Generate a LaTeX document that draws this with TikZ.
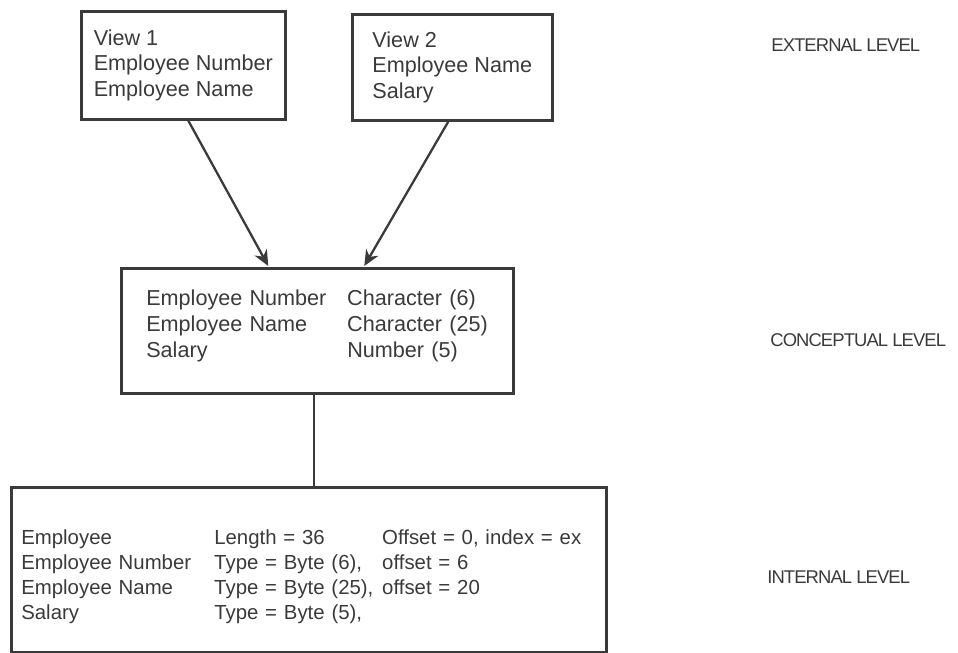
\documentclass[tikz,border=0pt]{standalone}
\usepackage{fontspec}
\setmainfont{Liberation Sans}
\newfontfamily\levelfont[LetterSpace=-5]{Liberation Sans}
\usepackage{xcolor}
\usetikzlibrary{arrows.meta,positioning,calc}
\definecolor{ink}{HTML}{3A3A3A}

\begin{document}
\begin{tikzpicture}[x=0.02cm, y=-0.02cm, >={Stealth[length=9pt,width=8pt]},
    levelbox/.style={draw=ink, line width=1.5pt, anchor=north west, align=left,
      text=ink, font=\fontsize{12.3}{14.5}\selectfont},
    levellabel/.style={anchor=west, inner xsep=0pt, text=ink,
      font=\levelfont\fontsize{10.5}{12}\selectfont}]
  \useasboundingbox (0,0) rectangle (958,653);
  % external views
  \node[levelbox, minimum width=4.08cm, minimum height=2.16cm] (view1) at (80,10)
    {View 1\\Employee Number\\Employee Name};
  \node[levelbox, minimum width=4.0cm, minimum height=2.12cm] (view2) at (351,13)
    {View 2\\Employee Name\\Salary};
  % conceptual record
  \node[levelbox, minimum width=7.84cm, minimum height=2.5cm, inner xsep=0.5cm,
    text width=6.84cm, font=\fontsize{12.3}{14.8}\selectfont] (concept) at (120,267)
    {\begin{tabular}{@{}p{4.02cm}@{}l@{}}
      Employee Number & Character (6)\\
      Employee Name & Character (25)\\
      Salary & Number (5)\rule[-10pt]{0pt}{0pt}
    \end{tabular}};
  % internal record
  \node[levelbox, minimum width=11.9cm, minimum height=3.3cm, inner xsep=0.2cm,
    text width=11.5cm, font=\fontsize{11.6}{14.2}\selectfont] (internal) at (10,486)
    {\begin{tabular}{@{}p{3.86cm}@{}p{3.36cm}@{}l@{}}
      \rule{0pt}{18pt}Employee & Length = 36 & Offset = 0, index = ex\\
      Employee Number & Type = Byte (6), & offset = 6\\
      Employee Name & Type = Byte (25), & offset = 20\\
      Salary & Type = Byte (5), &
    \end{tabular}};
  % mappings between levels
  \draw[->, ink, line width=1.3pt] ($(view1.south)+(5,0)$) -- ($(concept.north)+(-49,-1)$);
  \draw[->, ink, line width=1.3pt] ($(view2.south)+(-4,0)$) -- ($(concept.north)+(47,-1)$);
  \coordinate (drop) at ($(concept.south)+(-3,0)$);
  \draw[ink, line width=1.1pt] (drop) -- (drop |- internal.north);
  % level names
  \node[levellabel] (extl) at (771,45) {EXTERNAL LEVEL};
  \node[levellabel] (conl) at (770,340) {CONCEPTUAL LEVEL};
  \node[levellabel] (intl) at (767,577) {INTERNAL LEVEL};
\end{tikzpicture}
\end{document}
